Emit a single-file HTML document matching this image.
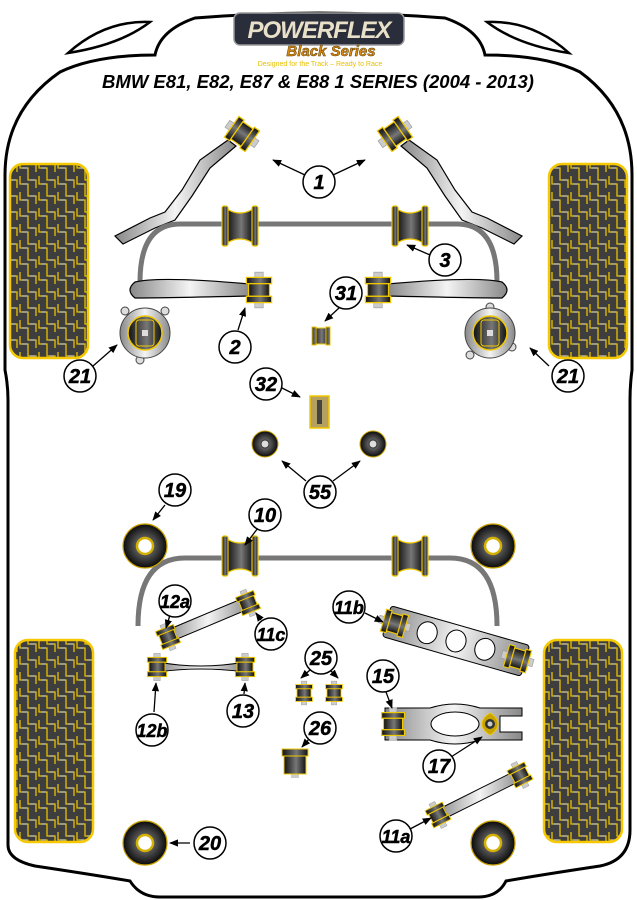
<!DOCTYPE html>
<html><head><meta charset="utf-8"><style>
html,body{margin:0;padding:0;background:#fff;}
svg{display:block;}
.lbl{font-family:"Liberation Sans",sans-serif;font-weight:bold;font-style:italic;font-size:20px;text-anchor:middle;fill:#000;stroke:#000;stroke-width:0.5;}
</style></head><body>
<svg width="637" height="900" viewBox="0 0 637 900" xmlns="http://www.w3.org/2000/svg">
<defs>
<linearGradient id="dk" x1="0" x2="1" y1="0" y2="0">
<stop offset="0" stop-color="#111"/><stop offset="0.55" stop-color="#777"/><stop offset="1" stop-color="#111"/></linearGradient>
<linearGradient id="gr" x1="0" x2="1" y1="0" y2="0">
<stop offset="0" stop-color="#888"/><stop offset="0.5" stop-color="#f4f4f4"/><stop offset="1" stop-color="#888"/></linearGradient>
<radialGradient id="rd"><stop offset="0.3" stop-color="#666"/><stop offset="1" stop-color="#0a0a0a"/></radialGradient>
<pattern id="tp" width="19" height="16" patternUnits="userSpaceOnUse">
<rect width="19" height="16" fill="#3e3e3e"/>
<path d="M1 0 V8 H9 V16 M9 0 V4 H17 V12" fill="none" stroke="#e8c000" stroke-width="1.3"/>
<path d="M3 8 H8 M11 4 H16" stroke="#bbb" stroke-width="1.3"/>
</pattern>
<g id="bv">
<rect x="-4" y="-17" width="8" height="6" fill="#ccc" stroke="#999" stroke-width="0.6"/>
<rect x="-4" y="11" width="8" height="6" fill="#ccc" stroke="#999" stroke-width="0.6"/>
<rect x="-12" y="-12" width="24" height="6" fill="url(#dk)" stroke="#f0c800" stroke-width="1.2"/>
<rect x="-10" y="-6" width="20" height="12" fill="url(#dk)" stroke="#f0c800" stroke-width="1.2"/>
<rect x="-12" y="6" width="24" height="6" fill="url(#dk)" stroke="#f0c800" stroke-width="1.2"/>
</g>
<g id="sad">
<path d="M-13 -17 Q0 -9 13 -17 V17 Q0 9 -13 17 Z" fill="url(#dk)" stroke="#f0c800" stroke-width="1.2"/>
<rect x="-18" y="-20" width="6" height="40" rx="2" fill="url(#dk)" stroke="#f0c800" stroke-width="1.2"/>
<rect x="12" y="-20" width="6" height="40" rx="2" fill="url(#dk)" stroke="#f0c800" stroke-width="1.2"/>
</g>
<g id="rb"><circle r="22" fill="url(#rd)" stroke="#c8a000" stroke-width="1.2"/><circle r="8" fill="#fff" stroke="#d4b000" stroke-width="2.5"/></g>
<marker id="ar" viewBox="0 0 10 10" refX="9" refY="5" markerWidth="7" markerHeight="7" orient="auto"><path d="M0 1 L10 5 L0 9 Z" fill="#000"/></marker>
</defs>

<path d="M8 845 V400 Q8 385 5 370 V175 Q5 110 60 72 Q95 55 155 55 Q160 30 195 18 Q318 8 445 18 Q480 30 485 55 Q545 55 580 72 Q632 110 632 175 V370 Q630 385 630 400 V830 Q630 860 600 866 Q540 875 506 881 Q498 897 478 897 H160 Q140 897 130 881 Q95 875 35 866 Q8 860 8 845 Z" fill="#fff" stroke="#000" stroke-width="3"/>
<path d="M68 53 Q105 20 150 22 Q120 45 68 53 Z" fill="#fff" stroke="#000" stroke-width="2.5"/>
<path d="M569 53 Q532 20 487 22 Q517 45 569 53 Z" fill="#fff" stroke="#000" stroke-width="2.5"/>

<rect x="10" y="164" width="78" height="194" rx="13" fill="url(#tp)" stroke="#f5c800" stroke-width="2.5"/>
<rect x="549" y="164" width="78" height="194" rx="13" fill="url(#tp)" stroke="#f5c800" stroke-width="2.5"/>
<rect x="15" y="640" width="78" height="202" rx="13" fill="url(#tp)" stroke="#f5c800" stroke-width="2.5"/>
<rect x="544" y="640" width="78" height="202" rx="13" fill="url(#tp)" stroke="#f5c800" stroke-width="2.5"/>

<rect x="234" y="13" width="170" height="32" rx="6" fill="#2a2d3a" stroke="#999" stroke-width="1.5"/>
<text x="319" y="38" style="font-family:'Liberation Sans',sans-serif;font-weight:bold;font-style:italic;font-size:24px;text-anchor:middle;fill:#e8e0c8;letter-spacing:-1px">POWERFLEX</text>
<text x="331" y="56" style="font-family:'Liberation Sans',sans-serif;font-weight:bold;font-style:italic;font-size:15px;text-anchor:middle;fill:#d88a10;stroke:#5a3a00;stroke-width:0.5">Black Series</text>
<text x="320" y="66" style="font-family:'Liberation Sans',sans-serif;font-size:7px;text-anchor:middle;fill:#e8c000">Designed for the Track – Ready to Race</text>
<text x="318" y="88" style="font-family:'Liberation Sans',sans-serif;font-weight:bold;font-style:italic;font-size:18.5px;text-anchor:middle;fill:#000">BMW E81, E82, E87 &amp; E88 1 SERIES (2004 - 2013)</text>

<path d="M115 236 L150 218 L165 212 L182 190 L200 160 L228 140 L236 146 L210 168 L192 196 L175 220 L155 228 L123 244 Z" fill="url(#gr)" stroke="#000" stroke-width="1.2"/>
<path d="M522 236 L487 218 L472 212 L455 190 L437 160 L409 140 L401 146 L427 168 L445 196 L462 220 L482 228 L514 244 Z" fill="url(#gr)" stroke="#000" stroke-width="1.2"/>
<use href="#bv" transform="translate(242,134) rotate(-55) scale(1.05)"/>
<use href="#bv" transform="translate(395,134) rotate(55) scale(1.05)"/>

<path d="M140 282 Q140 224 180 224 H457 Q497 224 497 282" fill="none" stroke="#777" stroke-width="5"/>
<use href="#sad" transform="translate(240,226)"/>
<use href="#sad" transform="translate(410,226)"/>

<path d="M135 282 Q160 276 250 284 V296 Q160 298 135 298 Q125 290 135 282 Z" fill="url(#gr)" stroke="#000" stroke-width="1.2"/>
<path d="M502 282 Q477 276 387 284 V296 Q477 298 502 298 Q512 290 502 282 Z" fill="url(#gr)" stroke="#000" stroke-width="1.2"/>
<use href="#bv" transform="translate(259,290) scale(1.05)"/>
<use href="#bv" transform="translate(378,290) scale(1.05)"/>
<g transform="translate(321,336)"><rect x="-8" y="-8" width="16" height="16" fill="url(#dk)" stroke="#f0c800"/><rect x="-9" y="-9" width="4" height="18" fill="url(#dk)" stroke="#f0c800"/><rect x="5" y="-9" width="4" height="18" fill="url(#dk)" stroke="#f0c800"/></g>

<g transform="translate(145,333)"><circle cx="-20" cy="-22" r="4" fill="#ddd" stroke="#444"/><circle cx="20" cy="-22" r="4" fill="#ddd" stroke="#444"/><circle cx="-5" cy="27" r="4" fill="#ddd" stroke="#444"/><circle r="25" fill="url(#gr)" stroke="#444"/><circle r="17" fill="url(#dk)" stroke="#f0c800" stroke-width="1.5"/><rect x="-9" y="-13" width="18" height="26" rx="3" fill="none" stroke="#f0c800"/><rect x="-3" y="-3" width="6" height="6" fill="#ddd"/></g>
<g transform="translate(490,333)"><circle cx="-20" cy="22" r="4" fill="#ddd" stroke="#444"/><circle cx="22" cy="14" r="4" fill="#ddd" stroke="#444"/><circle cx="0" cy="-26" r="4" fill="#ddd" stroke="#444"/><circle r="25" fill="url(#gr)" stroke="#444"/><circle r="17" fill="url(#dk)" stroke="#f0c800" stroke-width="1.5"/><rect x="-9" y="-13" width="18" height="26" rx="3" fill="none" stroke="#f0c800"/><rect x="-3" y="-3" width="6" height="6" fill="#ddd"/></g>

<rect x="310" y="396" width="19" height="32" fill="#b5a060" stroke="#f0c800" stroke-width="1.5"/>
<rect x="317" y="400" width="5" height="24" fill="#444"/>
<g transform="translate(265,444)"><circle r="13" fill="url(#rd)" stroke="#c8a000"/><circle r="4" fill="#ddd" stroke="#333"/></g>
<g transform="translate(373,444)"><circle r="13" fill="url(#rd)" stroke="#c8a000"/><circle r="4" fill="#ddd" stroke="#333"/></g>

<path d="M138 626 Q138 558 185 558 H450 Q497 558 497 626" fill="none" stroke="#777" stroke-width="5"/>
<use href="#sad" transform="translate(240,556)"/>
<use href="#sad" transform="translate(410,556)"/>
<use href="#rb" transform="translate(145,546)"/>
<use href="#rb" transform="translate(493,546)"/>
<use href="#rb" transform="translate(145,843)"/>
<use href="#rb" transform="translate(493,843)"/>

<path d="M165 631 L246 597 L251 608 L170 642 Z" fill="url(#gr)" stroke="#000"/>
<use href="#bv" transform="translate(168,637) rotate(-22) scale(0.8)"/>
<use href="#bv" transform="translate(248,603) rotate(-22) scale(0.8)"/>
<path d="M158 662 Q200 670 245 662 V672 Q200 666 158 672 Z" fill="url(#gr)" stroke="#000"/>
<use href="#bv" transform="translate(157,667) scale(0.8)"/>
<use href="#bv" transform="translate(245,667) scale(0.8)"/>
<use href="#bv" transform="translate(304,693) scale(0.7)"/>
<use href="#bv" transform="translate(334,693) scale(0.7)"/>
<g transform="translate(295,760)"><rect x="-4" y="13" width="8" height="5" fill="#ccc"/><rect x="-13" y="-11" width="26" height="7" fill="url(#dk)" stroke="#f0c800"/><rect x="-11" y="-4" width="22" height="18" fill="url(#dk)" stroke="#f0c800"/></g>

<g transform="translate(456,641) rotate(16)">
<rect x="-72" y="-16" width="144" height="32" rx="3" fill="url(#gr)" stroke="#000"/>
<ellipse cx="-30" cy="0" rx="10" ry="11" fill="#fff" stroke="#000"/>
<ellipse cx="0" cy="0" rx="10" ry="11" fill="#fff" stroke="#000"/>
<ellipse cx="30" cy="0" rx="10" ry="11" fill="#fff" stroke="#000"/>
<use href="#bv" transform="translate(-64,0) rotate(90) scale(0.95)"/>
<use href="#bv" transform="translate(64,0) rotate(90) scale(0.95)"/>
</g>
<path d="M385 708 H430 Q455 700 480 708 H522 V716 H500 V732 H522 V740 H480 Q455 748 430 740 H385 Z" fill="url(#gr)" stroke="#000"/>
<ellipse cx="455" cy="724" rx="24" ry="12" fill="#fff" stroke="#000"/>
<use href="#bv" transform="translate(393,724) scale(0.95)"/>
<g transform="translate(490,724)"><path d="M0 -11 Q8 -6 8 0 Q8 6 0 11 Q-8 6 -8 0 Q-8 -6 0 -11 Z" fill="#c9a400" stroke="#f0c800"/><circle r="5" fill="#333"/><circle r="2.5" fill="#ccc"/></g>
<path d="M437 810 L517 770 L522 780 L442 820 Z" fill="url(#gr)" stroke="#000"/>
<use href="#bv" transform="translate(438,815) rotate(-27) scale(0.8)"/>
<use href="#bv" transform="translate(520,775) rotate(-27) scale(0.8)"/>

<g stroke="#000" stroke-width="1.3" fill="none" marker-end="url(#ar)">
<line x1="305" y1="175" x2="273" y2="160"/>
<line x1="333" y1="175" x2="365" y2="160"/>
<line x1="430" y1="255" x2="407" y2="245"/>
<line x1="339" y1="308" x2="325" y2="321"/>
<line x1="238" y1="330" x2="245" y2="308"/>
<line x1="93" y1="366" x2="117" y2="345"/>
<line x1="549" y1="366" x2="530" y2="348"/>
<line x1="280" y1="387" x2="300" y2="397"/>
<line x1="306" y1="481" x2="282" y2="461"/>
<line x1="333" y1="481" x2="360" y2="461"/>
<line x1="165" y1="505" x2="153" y2="520"/>
<line x1="258" y1="528" x2="245" y2="545"/>
<line x1="170" y1="615" x2="166" y2="628"/>
<line x1="261" y1="620" x2="256" y2="613"/>
<line x1="365" y1="613" x2="383" y2="622"/>
<line x1="310" y1="670" x2="301" y2="678"/>
<line x1="330" y1="670" x2="338" y2="678"/>
<line x1="154" y1="712" x2="156" y2="683"/>
<line x1="244" y1="694" x2="245" y2="683"/>
<line x1="309" y1="739" x2="302" y2="747"/>
<line x1="386" y1="692" x2="392" y2="708"/>
<line x1="451" y1="757" x2="482" y2="737"/>
<line x1="190" y1="843" x2="170" y2="843"/>
<line x1="410" y1="829" x2="431" y2="818"/>
</g>

<g fill="#fff" stroke="#000" stroke-width="1.5">
<circle cx="319" cy="182" r="16"/><circle cx="445" cy="260" r="16"/><circle cx="346" cy="293" r="16"/>
<circle cx="235" cy="347" r="16"/><circle cx="80" cy="376" r="16"/><circle cx="568" cy="376" r="16"/>
<circle cx="266" cy="384" r="16"/><circle cx="320" cy="492" r="16"/><circle cx="175" cy="490" r="16"/>
<circle cx="265" cy="515" r="16"/><circle cx="175" cy="601" r="16"/><circle cx="271" cy="634" r="16"/>
<circle cx="349" cy="607" r="16"/><circle cx="321" cy="658" r="16"/><circle cx="383" cy="676" r="16"/>
<circle cx="152" cy="730" r="16"/><circle cx="243" cy="711" r="16"/><circle cx="320" cy="728" r="16"/>
<circle cx="439" cy="766" r="16"/><circle cx="210" cy="843" r="16"/><circle cx="396" cy="836" r="16"/>
</g>
<g class="lbl">
<text x="319" y="189">1</text><text x="445" y="267">3</text><text x="346" y="300">31</text>
<text x="235" y="354">2</text><text x="80" y="383">21</text><text x="568" y="383">21</text>
<text x="266" y="391">32</text><text x="320" y="499">55</text><text x="175" y="497">19</text>
<text x="265" y="522">10</text><text x="175" y="608" style="font-size:18px">12a</text><text x="271" y="641" style="font-size:18px">11c</text>
<text x="349" y="614" style="font-size:18px">11b</text><text x="321" y="665">25</text><text x="383" y="683">15</text>
<text x="152" y="737" style="font-size:18px">12b</text><text x="243" y="718">13</text><text x="320" y="735">26</text>
<text x="439" y="773">17</text><text x="210" y="850">20</text><text x="396" y="843" style="font-size:18px">11a</text>
</g>
</svg>
</body></html>
